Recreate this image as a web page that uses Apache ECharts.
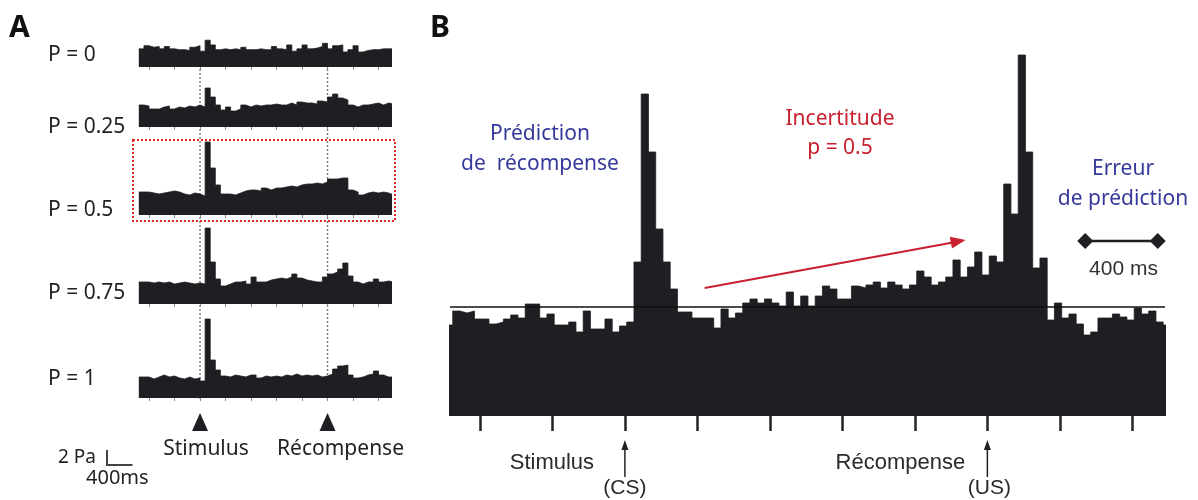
<!DOCTYPE html>
<html>
<head>
<meta charset="utf-8">
<script src="https://cdn.jsdelivr.net/npm/echarts@6/dist/echarts.min.js"></script>
<style>
html, body { margin: 0; padding: 0; background: #fff; }
#chart { width: 1198px; height: 500px; }
</style>
</head>
<body>
<div id="chart"></div>
<script>
// time axis in ms, stimulus (CS) at 0, reward (US) at 2000
const T_MIN = -965;
const T_MAX = 2980;
const TICKS_MS = [-800, -400, 0, 400, 800, 1200, 1600, 2000, 2400, 2800];
const EVENTS_MS = [0, 2000];

// panel A: five traces, 80 ms bins
const A_BIN_START = -960;
const A_BIN_MS = 80;
const A_LABELS = ['P = 0', 'P = 0.25', 'P = 0.5', 'P = 0.75', 'P = 1'];
const A_P0 = [23,27,25,26,23,26,23,22,22,21, 25,27,20,34,28,22,23,22,23,22, 25,22,22,23,22,22,26,23,22,28, 20,23,28,23,24,26,30,23,27,28, 19,22,27,19,21,22,22,23,23,23];
const A_P025 = [22,21,18,18,20,21,18,20,19,21, 20,22,20,39,30,22,17,20,16,18, 22,20,22,21,22,22,23,22,22,24, 22,25,24,24,23,26,25,30,33,29, 27,22,20,22,22,23,24,22,24,23];
const A_P05 = [23,23,22,21,22,23,24,23,21,20, 22,21,19,73,47,30,21,21,20,22, 24,25,25,24,27,25,27,27,28,29, 28,30,31,31,32,31,33,36,36,37, 37,25,23,20,22,23,22,23,22,20];
const A_P075 = [22,22,21,22,21,22,20,21,22,21, 20,21,20,76,42,25,18,20,22,22, 23,20,27,22,22,24,25,26,25,27, 30,26,24,23,22,22,27,30,32,35, 41,28,22,20,22,22,25,22,23,22];
const A_P1 = [21,21,19,21,23,21,22,20,19,21, 19,20,17,79,38,28,22,21,23,22, 21,23,23,20,22,21,22,21,23,22, 24,22,23,22,23,21,22,24,29,32, 33,23,20,21,23,24,27,23,21,21];

// panel B: p = 0.5, 40 ms bins
const B_BIN_START = -990;
const B_BIN_MS = 40;
const B_VALUES = [91,105,103,105,97,97,92,94,97,101, 98,112,112,98,102,91,91,94,84,105,
  87,87,97,84,90,94,154,322,264,187, 154,127,104,104,98,98,98,88,107,98,
  103,113,117,113,117,113,110,124,110,120, 110,120,130,127,117,117,130,128,131,134,
  128,134,131,127,131,145,139,131,134,139, 156,139,149,164,141,160,154,232,202,361,
  264,148,158,96,113,98,102,92,81,84, 98,98,102,99,96,108,102,105,94,91];
const B_REF = 109;

const INK = '#1f1e22';
const BLUE = '#353a9a';
const RED = '#c8202f';
const MYRIAD = '"Noto Sans", sans-serif';
const HELV = '"Liberation Sans", Arial, sans-serif';

function histSeries(vals, start, width, gi) {
  const pts = vals.map((v, k) => [start + k * width, v]);
  pts.push([start + vals.length * width, vals[vals.length - 1]]);
  return {
    type: 'line', xAxisIndex: gi, yAxisIndex: gi, data: pts,
    step: 'end', symbol: 'none', silent: true, z: 3,
    lineStyle: { width: 0.8, color: INK },
    areaStyle: { color: INK, opacity: 1 }
  };
}

const A_TRACES = [A_P0, A_P025, A_P05, A_P075, A_P1];
const A_BASE = [67, 127, 215, 304, 398];
const A_H = 85;

let grids = [], xAxes = [], yAxes = [], series = [];
A_TRACES.forEach((vals, i) => {
  grids.push({ left: 138.5, width: 251.5, top: A_BASE[i] - A_H, height: A_H });
  xAxes.push({
    type: 'value', gridIndex: i, min: T_MIN, max: T_MAX,
    axisLine: { show: false }, splitLine: { show: false }, axisLabel: { show: false },
    axisTick: { show: true, customValues: TICKS_MS, length: 3, lineStyle: { color: '#8a8a8a', width: 1 } }
  });
  yAxes.push({ type: 'value', gridIndex: i, min: 0, max: A_H, show: false });
  series.push(histSeries(vals, A_BIN_START, A_BIN_MS, i));
});

// panel B grid
grids.push({ left: 450, width: 715, top: 46, height: 370 });
xAxes.push({
  type: 'value', gridIndex: 5, min: T_MIN, max: T_MAX,
  axisLine: { show: false }, splitLine: { show: false }, axisLabel: { show: false },
  axisTick: { show: true, customValues: TICKS_MS, length: 15, lineStyle: { color: '#222', width: 2.5 } }
});
yAxes.push({ type: 'value', gridIndex: 5, min: 0, max: 370, show: false });
let bSeries = histSeries(B_VALUES, B_BIN_START, B_BIN_MS, 5);
bSeries.markLine = {
  silent: true, symbol: 'none', label: { show: false },
  lineStyle: { color: '#111', width: 1.6, type: 'solid' },
  data: [{ yAxis: B_REF }]
};
series.push(bSeries);

const chart = echarts.init(document.getElementById('chart'), null, { renderer: 'canvas' });
chart.setOption({
  animation: false,
  backgroundColor: '#fff',
  grid: grids, xAxis: xAxes, yAxis: yAxes, series: series
});

function txt(text, x, y, size, color, font, align, weight) {
  return {
    type: 'text', silent: true,
    style: {
      text: text, x: x, y: y, fill: color,
      font: (weight || 'normal') + ' ' + size + 'px ' + font,
      textAlign: align || 'left', textVerticalAlign: 'middle',
      align: align || 'left', verticalAlign: 'middle'
    }
  };
}
function line(x1, y1, x2, y2, color, w, dash) {
  return { type: 'line', silent: true, shape: { x1, y1, x2, y2 },
    style: { stroke: color, lineWidth: w, lineDash: dash || null } };
}
function poly(points, color) {
  return { type: 'polygon', silent: true, shape: { points }, style: { fill: color } };
}
function arrowHead(x1, y1, x2, y2, len, half, color) {
  const a = Math.atan2(y2 - y1, x2 - x1);
  const bx = x2 - len * Math.cos(a), by = y2 - len * Math.sin(a);
  const nx = -Math.sin(a) * half, ny = Math.cos(a) * half;
  return poly([[x2, y2], [bx + nx, by + ny], [bx - nx, by - ny]], color);
}
const px = (gi, t, v) => chart.convertToPixel({ gridIndex: gi }, [t, v]);

let g = [];
// event lines and markers of panel A
EVENTS_MS.forEach(t => {
  const top = px(0, t, 0), bot = px(4, t, 0);
  g.push(Object.assign(line(top[0], top[1] + 2, bot[0], bot[1] + 3, '#777', 1.4, [2, 2]), { z: 0 }));
  g.push(poly([[bot[0] - 8, 431], [bot[0] + 8, 431], [bot[0], 413]], INK));
});
// dotted box round P = 0.5
g.push({ type: 'rect', silent: true, shape: { x: 133, y: 140, width: 262, height: 81 },
  style: { fill: null, stroke: '#e8262a', lineWidth: 2, lineDash: [2, 2] } });

// panel A texts
g.push(txt('A', 9, 28, 30, '#111', MYRIAD, 'left', 'bold'));
const labY = [55, 127, 210, 293, 379];
A_LABELS.forEach((s, i) => g.push(txt(s, 48, labY[i], 21, '#231f20', MYRIAD)));
g.push(txt('Stimulus', px(4, 0, 0)[0] + 6, 449, 21, '#231f20', MYRIAD, 'center'));
g.push(txt('Récompense', px(4, 2000, 0)[0] + 13, 449, 21, '#231f20', MYRIAD, 'center'));
g.push(txt('2 Pa', 58, 458, 19, '#231f20', MYRIAD));
g.push(txt('400ms', 86, 478, 20, '#231f20', MYRIAD));
const sb = px(4, 0, 0)[0], sb4 = px(4, 400, 0)[0];
g.push(line(107, 450, 107, 466, '#444', 2));
g.push(line(107, 465, 107 + (sb4 - sb), 465, '#444', 2));

// panel B texts
g.push(txt('B', 430, 28, 30, '#111', MYRIAD, 'left', 'bold'));
g.push(txt('Prédiction', 540, 134, 21, BLUE, MYRIAD, 'center'));
g.push(txt('de  récompense', 540, 164, 21, BLUE, MYRIAD, 'center'));
g.push(txt('Incertitude', 840, 119, 21, RED, MYRIAD, 'center'));
g.push(txt('p = 0.5', 840, 148, 21, RED, MYRIAD, 'center'));
g.push(txt('Erreur', 1123, 169, 21, BLUE, MYRIAD, 'center'));
g.push(txt('de prédiction', 1123, 199, 21, BLUE, MYRIAD, 'center'));

// red arrow
const ra = px(5, 440, 128), rb = px(5, 1880, 176);
g.push(line(ra[0], ra[1], rb[0] - 10, rb[1] + 2, RED, 2));
g.push(arrowHead(ra[0], ra[1], rb[0], rb[1], 15, 6, RED));

// 400 ms scale in B
const s1 = px(5, 2540, 175), s2 = px(5, 2940, 175);
g.push(line(s1[0], s1[1], s2[0], s2[1], INK, 2.5));
[s1, s2].forEach(p => g.push(poly([[p[0] - 8, p[1]], [p[0], p[1] - 8], [p[0] + 8, p[1]], [p[0], p[1] + 8]], INK)));
g.push(txt('400 ms', (s1[0] + s2[0]) / 2 + 2, 269, 21, '#333', HELV, 'center'));

// CS / US arrows
const cs = px(5, 0, 0)[0], us = px(5, 2000, 0)[0];
[cs, us].forEach(x => {
  g.push(line(x, 477, x, 447, '#222', 1.5));
  g.push(arrowHead(x, 477, x, 440, 10, 3.5, '#222'));
});
g.push(txt('Stimulus', cs - 73, 463, 22, '#2a2a2a', HELV, 'center'));
g.push(txt('(CS)', cs, 488, 21, '#2a2a2a', HELV, 'center'));
g.push(txt('Récompense', us - 87, 463, 22, '#2a2a2a', HELV, 'center'));
g.push(txt('(US)', us + 2, 488, 21, '#2a2a2a', HELV, 'center'));

chart.setOption({ graphic: { elements: g } });
</script>
</body>
</html>
